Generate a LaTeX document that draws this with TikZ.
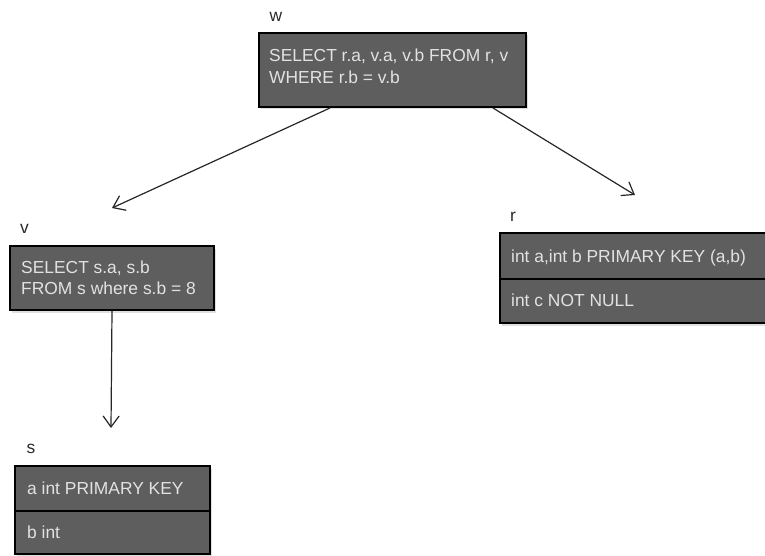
\documentclass[tikz,border=0pt]{standalone}
\usepackage{fontspec}
\setmainfont{Liberation Sans}
\usetikzlibrary{arrows.meta,shadows}
\definecolor{boxfill}{HTML}{5E5E5E}
\definecolor{boxtext}{HTML}{E2E2E2}
\definecolor{labeltext}{HTML}{2A2A2A}
\begin{document}
\begin{tikzpicture}[x=1pt,y=-1pt,
  box/.style={draw=black, line width=2pt, fill=boxfill, inner sep=0pt,
    anchor=north west,
    drop shadow={shadow xshift=1.5pt, shadow yshift=-2.5pt, opacity=0.25}},
  boxtxt/.style={text=boxtext, inner sep=0pt, anchor=base west,
    font=\fontsize{17.4}{21}\selectfont},
  title/.style={text=labeltext, inner sep=0pt, anchor=base,
    font=\fontsize{17.4}{21}\selectfont},
  link/.style={draw=black!85, line width=1.2pt,
    -{Straight Barb[length=11pt,width=16pt,line width=1.2pt]}}]

\useasboundingbox (0,0) rectangle (765,556);

% view w
\node[title] (wname) at (276,22) {w};
\node[box, minimum width=267pt, minimum height=74pt] (w) at (258,32) {};
\node[boxtxt] (wl1) at (269,62) {SELECT r.a, v.a, v.b FROM r, v};
\node[boxtxt] (wl2) at (269,84) {WHERE r.b = v.b};

% view v
\node[title] (vname) at (24.5,233) {v};
\node[box, minimum width=204pt, minimum height=64pt] (v) at (9,245) {};
\node[boxtxt] (vl1) at (21,273) {SELECT s.a, s.b};
\node[boxtxt] (vl2) at (21,294) {FROM s where s.b = 8};

% table r
\node[title] (rname) at (513,221) {r};
\node[box, minimum width=268pt, minimum height=46pt] (r1) at (499,232) {};
\node[box, minimum width=268pt, minimum height=44pt] (r2) at (499,278) {};
\node[boxtxt] (rl1) at (511,262) {int a,int b PRIMARY KEY (a,b)};
\node[boxtxt] (rl2) at (511,306) {int c NOT NULL};

% table s
\node[title] (sname) at (31,453) {s};
\node[box, minimum width=195pt, minimum height=45pt] (s1) at (14,465) {};
\node[box, minimum width=195pt, minimum height=43pt] (s2) at (14,510) {};
\node[boxtxt] (sl1) at (27,494) {a int PRIMARY KEY};
\node[boxtxt] (sl2) at (27,538) {b int};

% dependencies
\coordinate (wv) at (112,208);
\coordinate (wr) at (635,195);
\coordinate (vs) at (111,428);
\draw[link] ([xshift=72pt]w.south west) -- (wv);
\draw[link] ([xshift=235pt]w.south west) -- (wr);
\draw[link] (v.south) -- (vs);
\end{tikzpicture}
\end{document}
